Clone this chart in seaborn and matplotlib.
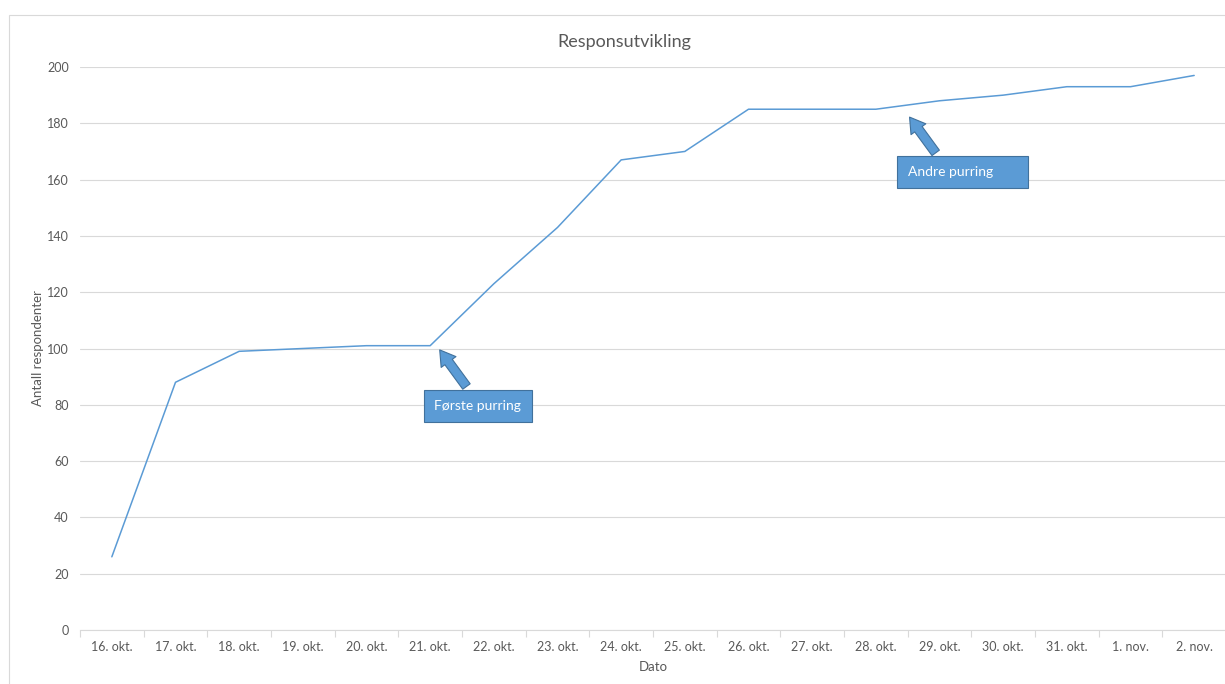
import matplotlib
matplotlib.use("Agg")
import matplotlib.pyplot as plt
from matplotlib.patches import Rectangle
import numpy as np
import pandas as pd
import seaborn as sns

# Data
dates = [
    "16. okt.", "17. okt.", "18. okt.", "19. okt.", "20. okt.", "21. okt.",
    "22. okt.", "23. okt.", "24. okt.", "25. okt.", "26. okt.", "27. okt.",
    "28. okt.", "29. okt.", "30. okt.", "31. okt.", "1. nov.", "2. nov.",
]
respondents = [26, 88, 99, 100, 101, 101, 123, 143, 167, 170, 185, 185,
               185, 188, 190, 193, 193, 197]
y_ticks = [0, 20, 40, 60, 80, 100, 120, 140, 160, 180, 200]

LINE_BLUE = "#5B9BD5"
EDGE_BLUE = "#41719C"
GRID_GRAY = "#D9D9D9"
TEXT_GRAY = "#595959"

sns.set_theme(style="white")
plt.rcParams["font.family"] = ["Lato", "DejaVu Sans"]

df = pd.DataFrame({"Dato": dates, "Antall": respondents})

fig = plt.figure(figsize=(12.25, 6.84), dpi=100)
# light chart-area border
fig.patches.append(Rectangle((9 / 1225, -0.01), 1.02, 1 - 15 / 684 + 0.01,
                             transform=fig.transFigure, fill=False,
                             edgecolor="#D9D9D9", linewidth=0.8))
ax = fig.add_axes([80 / 1225, 1 - 630 / 684, 1146 / 1225, (630 - 67) / 684])

sns.lineplot(data=df, x="Dato", y="Antall", sort=False, ax=ax,
             color=LINE_BLUE, linewidth=1.1)

ax.set_xlim(-0.5, len(dates) - 0.5)
ax.set_ylim(0, 200)
ax.set_yticks(y_ticks)
ax.yaxis.grid(True, color=GRID_GRAY, linewidth=0.8)
ax.set_axisbelow(True)
for side in ["top", "right", "left"]:
    ax.spines[side].set_visible(False)
ax.spines["bottom"].set_color(GRID_GRAY)
ax.spines["bottom"].set_linewidth(0.8)

ax.set_xticks(np.arange(len(dates)))
ax.set_xticklabels(dates)
ax.set_xticks(np.arange(len(dates) + 1) - 0.5, minor=True)
ax.tick_params(axis="x", which="major", length=0, pad=8,
               labelsize=9, labelcolor=TEXT_GRAY)
ax.tick_params(axis="x", which="minor", length=5, color=GRID_GRAY, width=0.8,
               direction="out", bottom=True)
ax.tick_params(axis="y", length=0, pad=8, labelsize=9, labelcolor=TEXT_GRAY)

ax.set_xlabel("Dato", fontsize=9.5, color=TEXT_GRAY, labelpad=6)
ax.set_ylabel("Antall respondenter", fontsize=9.5, color=TEXT_GRAY, labelpad=2)
fig.text(624 / 1225, 1 - 42 / 684, "Responsutvikling", ha="center",
         va="center", fontsize=13, color=TEXT_GRAY)

# Annotations (block arrow + box)
arrow_kw = dict(arrowstyle="simple,head_length=0.9,head_width=1.1,tail_width=0.55",
                facecolor=LINE_BLUE, edgecolor=EDGE_BLUE, linewidth=0.8,
                shrinkA=0, shrinkB=0)
box_kw = dict(boxstyle="square,pad=0.75", facecolor=LINE_BLUE,
              edgecolor=EDGE_BLUE, linewidth=0.8)

ax.annotate("", xy=(5.15, 99.5), xytext=(5.57, 86.5), arrowprops=arrow_kw)
ax.text(5.75, 79.6, "Første purring", ha="center", va="center",
        fontsize=10, color="white", bbox=box_kw)

ax.annotate("", xy=(12.53, 182.2), xytext=(12.94, 169.5), arrowprops=arrow_kw)
ax.text(13.36, 162.7, "Andre purring       ", ha="center", va="center",
        fontsize=10, color="white", bbox=box_kw)

fig.savefig("out.png", dpi=100)
